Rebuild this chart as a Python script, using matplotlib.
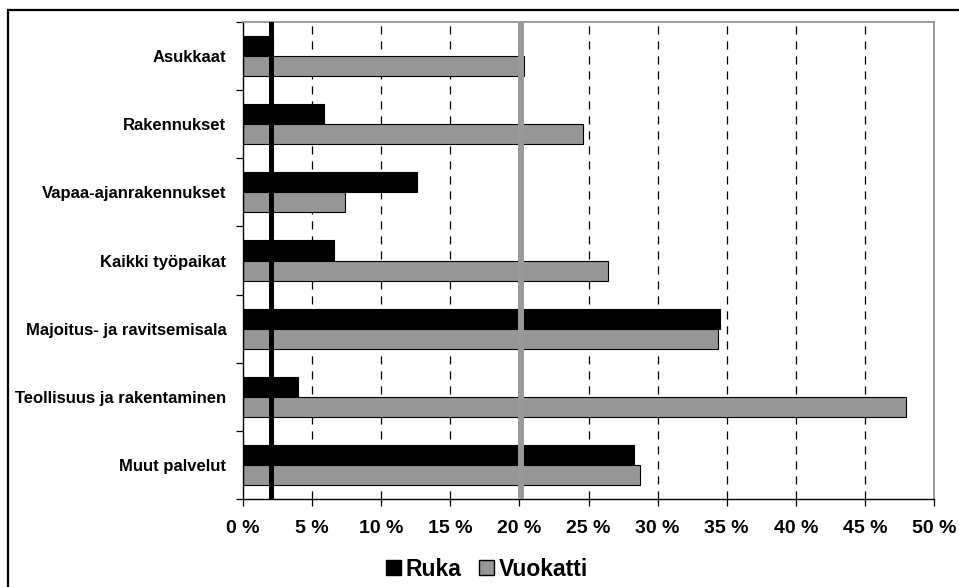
import numpy as np
import matplotlib.pyplot as plt
from matplotlib.patches import Rectangle, Patch

plt.rcParams['font.family'] = ['Liberation Sans', 'DejaVu Sans']

# share of each category (%)
categories = ['Asukkaat', 'Rakennukset', 'Vapaa-ajanrakennukset', 'Kaikki työpaikat',
              'Majoitus- ja ravitsemisala', 'Teollisuus ja rakentaminen', 'Muut palvelut']
ruka = [2.2, 5.85, 12.6, 6.6, 34.5, 4.0, 28.3]
vuokatti = [20.3, 24.6, 7.4, 26.4, 34.4, 48.0, 28.7]

# reference levels
ruka_ref = 2.05
vuokatti_ref = 20.1

xticks = np.arange(0, 55, 5)

fig = plt.figure(figsize=(9.59, 5.87), dpi=100)
ax = fig.add_axes([243/959, 1-499/587, (934-243)/959, (499-22)/587])

y = np.arange(len(categories))
h = 0.294
ax.barh(y - h/2, ruka, height=h, color='black', edgecolor='black', linewidth=0.8, zorder=2)
ax.barh(y + h/2, vuokatti, height=h, color='#969696', edgecolor='black', linewidth=0.8, zorder=2)

for x in xticks[1:-1]:
    ax.axvline(x, color='black', lw=0.9, dashes=(6.5, 5.5), zorder=1)

ax.axvline(vuokatti_ref, color='#999999', lw=4.3, zorder=3)
ax.axvline(ruka_ref, color='black', lw=3.6, zorder=4)

ax.set_xlim(0, 50)
ax.set_ylim(len(categories) - 0.5, -0.5)

ax.set_xticks(xticks)
ax.set_xticklabels([f'{v} %' for v in xticks], fontsize=14, fontweight='bold')
ax.tick_params(axis='x', length=5, width=0.9, pad=10, direction='out')

ax.set_yticks(np.arange(-0.5, len(categories), 1))
ax.set_yticklabels([])
ax.set_yticks(y, minor=True)
ax.set_yticklabels(categories, minor=True, fontsize=12, fontweight='bold')
ax.tick_params(axis='y', which='major', length=5, width=0.9, direction='out')
ax.tick_params(axis='y', which='minor', length=0, pad=12)

for s in ['left', 'bottom']:
    ax.spines[s].set_linewidth(1.0)
for s in ['top', 'right']:
    ax.spines[s].set_color('#8c8c8c')
    ax.spines[s].set_linewidth(1.2)

handles = [Patch(facecolor='black', edgecolor='black', label='Ruka'),
           Patch(facecolor='#969696', edgecolor='black', label='Vuokatti')]
fig.legend(handles=handles, loc='center', bbox_to_anchor=(487/959, 1-569/587), ncol=2,
           frameon=False, prop={'size': 16.5, 'weight': 'bold'}, handlelength=0.65,
           handleheight=0.65, handletextpad=0.2, columnspacing=0.8)

fig.patches.append(Rectangle((8/959, -0.1), 1.2, 1.1 - 10/587, transform=fig.transFigure,
                             fill=False, edgecolor='black', lw=1.6))

fig.savefig('out.png', dpi=100)
